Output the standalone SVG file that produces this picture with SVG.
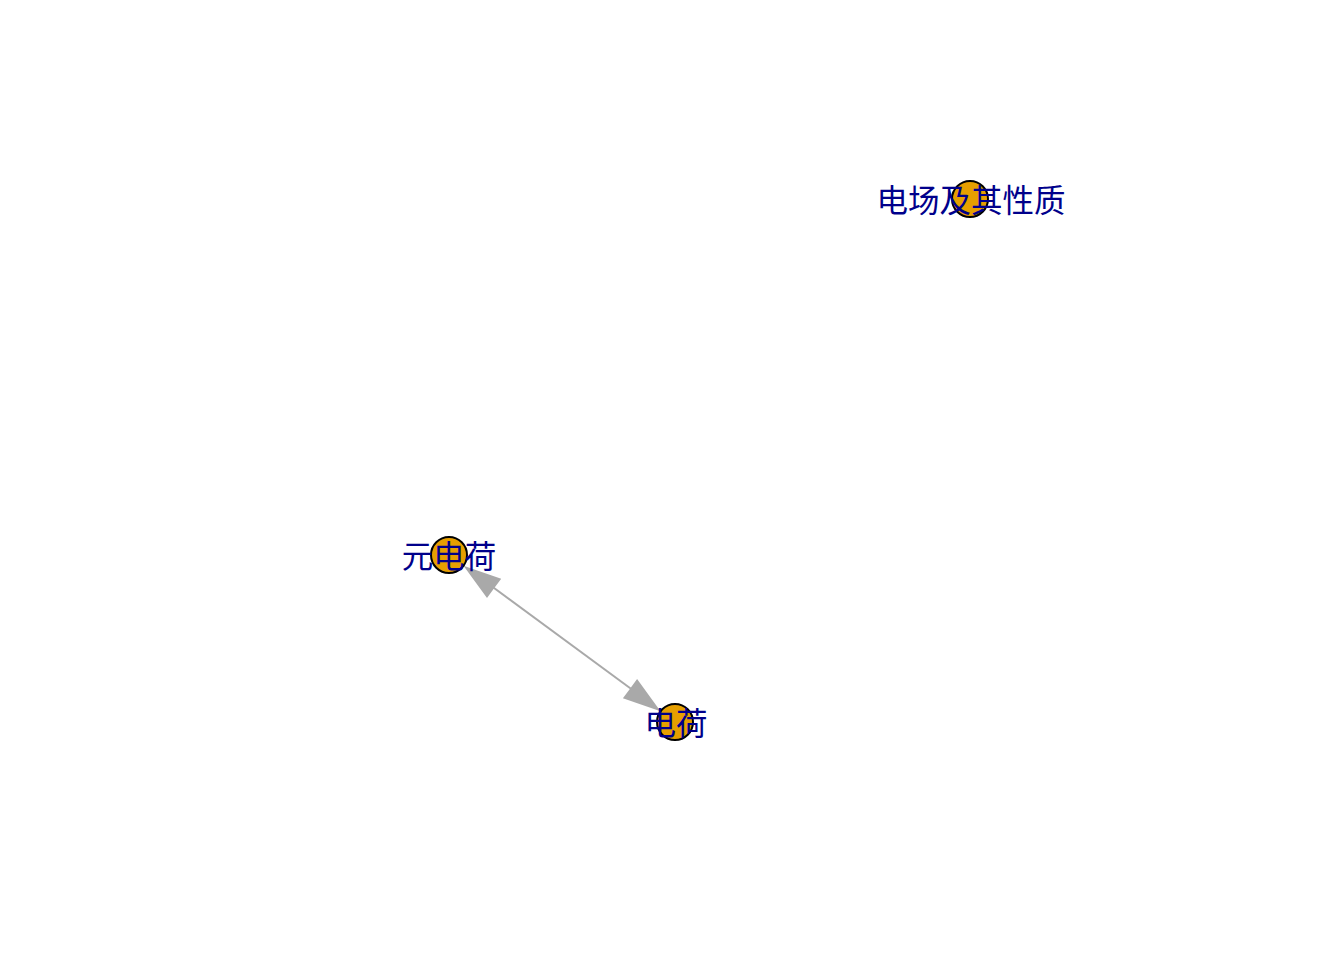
<svg xmlns="http://www.w3.org/2000/svg" width="1344" height="960" viewBox="0 0 1344 960">
<style>
.node{fill:#E69F00;stroke:#000;stroke-width:2}
.lbl{font-family:"Noto Sans CJK SC","Liberation Serif",serif;font-size:31.5px;fill:#00008B;text-anchor:middle}
.edge{stroke:#A9A9A9;stroke-width:2;fill:none}
.head{fill:#A9A9A9;stroke:none}
</style>
<rect width="1344" height="960" fill="#fff"/>
<g id="connectors">
<line class="edge" x1="490" y1="585" x2="634" y2="691"/>
<polygon class="head" points="463.5,565.7 501.2,578.7 494.1,588.3 487.0,597.9"/>
<polygon class="head" points="660.5,711.3 622.9,698.3 630.0,688.7 637.1,679.1"/>
</g>
<g id="n1"><circle class="node" cx="970" cy="199" r="18"/><text class="lbl" x="971" y="212">电场及其性质</text></g>
<g id="n2"><circle class="node" cx="449" cy="555" r="18"/><text class="lbl" x="449" y="568">元电荷</text></g>
<g id="n3"><circle class="node" cx="675" cy="722" r="18"/><text class="lbl" x="676" y="735">电荷</text></g>
</svg>
